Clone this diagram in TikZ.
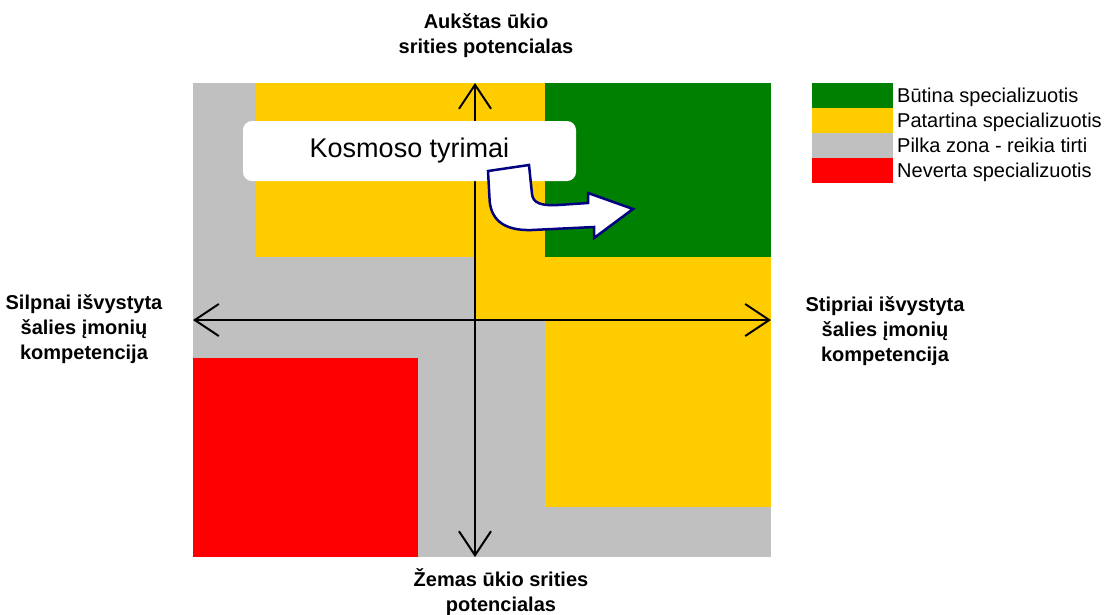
\documentclass[tikz,border=0pt]{standalone}
\usepackage{fontspec}
\setmainfont{Liberation Sans}
\usetikzlibrary{arrows.meta}
\definecolor{cgreen}{HTML}{008000}
\definecolor{cyellow}{HTML}{FFCC00}
\definecolor{cgrey}{HTML}{C0C0C0}
\definecolor{cred}{HTML}{FF0000}
\definecolor{cnavy}{HTML}{000080}
\begin{document}
\begin{tikzpicture}[x=1pt,y=-1pt,
  axisline/.style={line width=2pt, >={Straight Barb[length=24pt,width=32pt,line width=2pt]}, <->},
  lbl/.style={font=\fontsize{20}{25}\selectfont\bfseries, align=center, inner sep=0pt},
  swatch/.style={minimum width=81pt, minimum height=25pt, inner sep=0pt, draw=none},
  legtext/.style={font=\fontsize{20}{24}\selectfont, anchor=base west, inner sep=0pt},
  bubble/.style={fill=white, rounded corners=9pt, minimum width=333pt, minimum height=60pt, inner sep=0pt, font=\fontsize{27}{32}\selectfont},
  bendarrow/.style={fill=white, draw=cnavy, line width=2.5pt, line join=miter}
]
\useasboundingbox (0,0) rectangle (1104,614);
% zones
\fill[cgrey] (193,83) rectangle (771,557);
\fill[cyellow] (256,83) rectangle (545,257);
\fill[cyellow] (475,257) rectangle (771,320);
\fill[cyellow] (545,257) rectangle (771,507);
\fill[cgreen] (545,83) rectangle (771,257);
\fill[cred] (193,358) rectangle (418,557);
% axes
\coordinate (top) at (475,83);
\coordinate (bottom) at (475,557);
\coordinate (left) at (193,320);
\coordinate (right) at (771,320);
\draw[axisline] (bottom) -- (top);
\draw[axisline] (left) -- (right);
% axis labels
\node[lbl] (ltop) at (486,36) {Aukštas ūkio\\srities potencialas};
\node[lbl] (lbottom) at (501,592) {Žemas ūkio srities\\potencialas};
\node[lbl] (lleft) at (84,329) {Silpnai išvystyta\\šalies įmonių\\kompetencija};
\node[lbl] (lright) at (885,331) {Stipriai išvystyta\\šalies įmonių\\kompetencija};
% bubble
\node[bubble] (kosmos) at (409.5,151) {Kosmoso tyrimai};
% bent arrow
\draw[bendarrow] (488,171) -- (529,165) -- (532,194)
  .. controls (533,203) and (541,206) .. (558,205) -- (588,203) -- (588,193)
  -- (633,209) -- (594,238) -- (594,227) -- (532,230)
  .. controls (503,231) and (490,219) .. (489.5,198) -- cycle;
% legend
\node[swatch, fill=cgreen] (s1) at (852.5,95.5) {};
\node[swatch, fill=cyellow] (s2) at (852.5,120.5) {};
\node[swatch, fill=cgrey] (s3) at (852.5,145.5) {};
\node[swatch, fill=cred] (s4) at (852.5,170.5) {};
\node[legtext] (t1) at (897,102) {Būtina specializuotis};
\node[legtext] (t2) at (897,127) {Patartina specializuotis};
\node[legtext] (t3) at (897,152) {Pilka zona - reikia tirti};
\node[legtext] (t4) at (897,177) {Neverta specializuotis};
\end{tikzpicture}
\end{document}
